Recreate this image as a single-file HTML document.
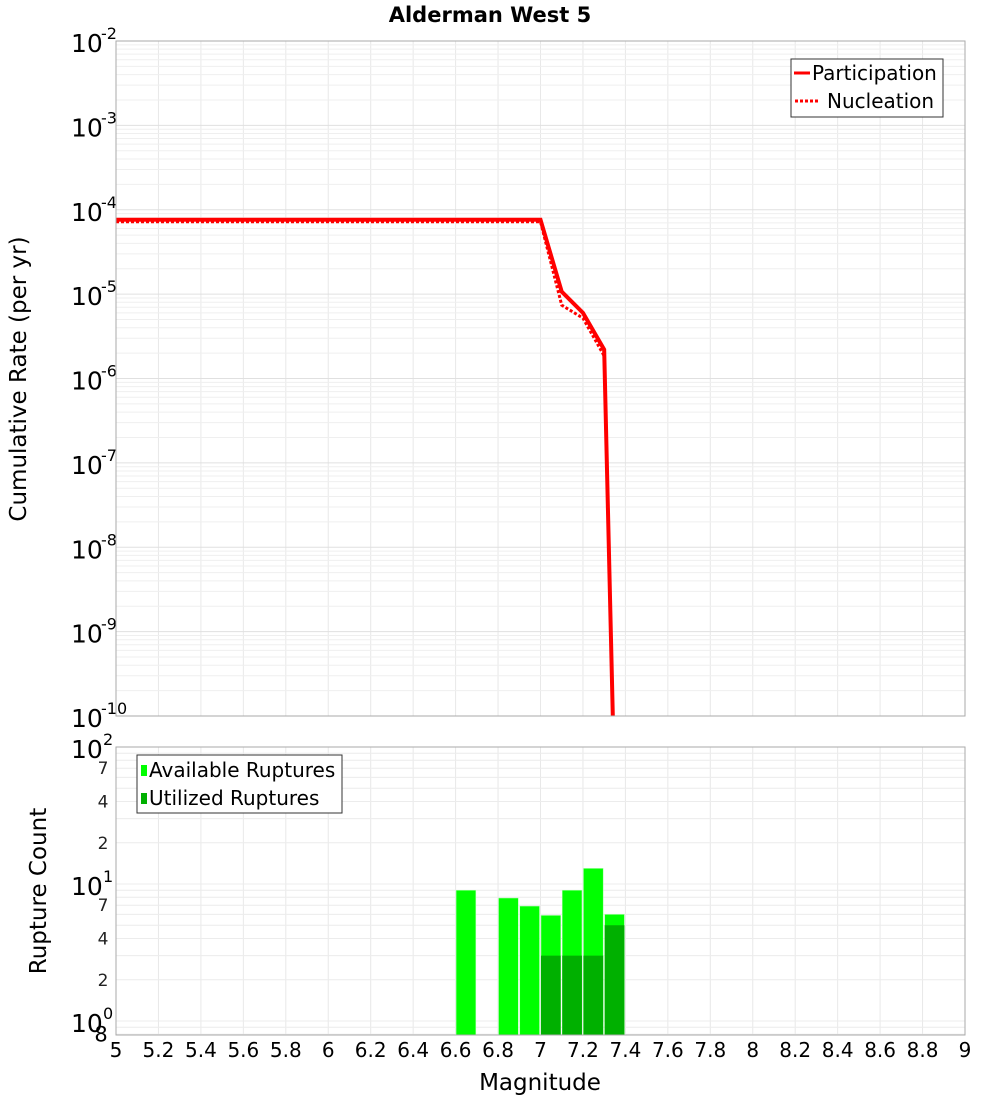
<!DOCTYPE html>
<html><head><meta charset="utf-8"><style>
body{margin:0;background:#fff;font-family:"DejaVu Sans","Liberation Sans",sans-serif}
svg text{font-family:"DejaVu Sans","Liberation Sans",sans-serif}
</style></head><body>
<svg id="c" width="1000" height="1100" xmlns="http://www.w3.org/2000/svg">
<rect width="1000" height="1100" fill="#fff"/>
<text x="490" y="22" font-size="21" font-weight="bold" text-anchor="middle">Alderman West 5</text>
<g id="grid"></g>
<g id="bars"></g>
<g id="lines"></g>
<g id="axes"></g>
<rect x="116" y="41" width="849" height="675" fill="none" stroke="#aaa"/>
<rect x="116" y="747" width="849" height="288" fill="none" stroke="#aaa"/>
<text transform="translate(26,379) rotate(-90)" font-size="23" text-anchor="middle">Cumulative Rate (per yr)</text>
<text transform="translate(46,891) rotate(-90)" font-size="23" text-anchor="middle">Rupture Count</text>
<text x="540" y="1090" font-size="23" text-anchor="middle">Magnitude</text>
<g>
<rect x="791" y="59" width="152" height="58" fill="#fff" stroke="#333"/>
<line x1="794" y1="73" x2="810" y2="73" stroke="#f00" stroke-width="3"/>
<text x="812" y="80" font-size="20">Participation</text>
<line x1="795" y1="101" x2="820" y2="101" stroke="#f00" stroke-width="3" stroke-dasharray="3,2"/>
<text x="827" y="108" font-size="20">Nucleation</text>
</g>
<g>
<rect x="137" y="755" width="205" height="58" fill="#fff" stroke="#333"/>
<rect x="141" y="765" width="6" height="11" fill="#00ff00"/>
<text x="149" y="777" font-size="20">Available Ruptures</text>
<rect x="141" y="793" width="6" height="11" fill="#00b000"/>
<text x="149" y="805" font-size="20">Utilized Ruptures</text>
</g>
</svg>
<script>
const mags=[5,5.1,5.2,5.3,5.4,5.5,5.6,5.7,5.8,5.9,6,6.1,6.2,6.3,6.4,6.5,6.6,6.7,6.8,6.9,7,7.1,7.2,7.3,7.35];
const participation=[7.6e-5,7.6e-5,7.6e-5,7.6e-5,7.6e-5,7.6e-5,7.6e-5,7.6e-5,7.6e-5,7.6e-5,7.6e-5,7.6e-5,7.6e-5,7.6e-5,7.6e-5,7.6e-5,7.6e-5,7.6e-5,7.6e-5,7.6e-5,7.6e-5,1.07e-5,6e-6,2.2e-6,1e-11];
const nucleation=[7.2e-5,7.2e-5,7.2e-5,7.2e-5,7.2e-5,7.2e-5,7.2e-5,7.2e-5,7.2e-5,7.2e-5,7.2e-5,7.2e-5,7.2e-5,7.2e-5,7.2e-5,7.2e-5,7.2e-5,7.2e-5,7.2e-5,7.2e-5,7.2e-5,7.4e-6,5.2e-6,1.85e-6,1e-11];
const binMags=[6.6,6.8,6.9,7.0,7.1,7.2,7.3];
const available=[9,7.9,6.9,5.9,9,13,6];
const utilized=[0,0,0,3,3,3,5];
const xTicks=[5,5.2,5.4,5.6,5.8,6,6.2,6.4,6.6,6.8,7,7.2,7.4,7.6,7.8,8,8.2,8.4,8.6,8.8,9];
const topExps=[-2,-3,-4,-5,-6,-7,-8,-9,-10];
const botMinor=[7,4,2];

const NS="http://www.w3.org/2000/svg";
const X=m=>116+(m-5)/4*849;
const YT=v=>41+(-2-Math.log10(v))*84.375;
const YB=v=>747+(2-Math.log10(v))*137;
function mk(p,t,a){const e=document.createElementNS(NS,t);for(const k in a)e.setAttribute(k,a[k]);p.appendChild(e);return e;}
const grid=document.getElementById('grid'),bars=document.getElementById('bars'),lines=document.getElementById('lines'),axes=document.getElementById('axes');
for(const m of xTicks){
 const g1=mk(grid,'line',{x1:X(m),x2:X(m),y1:41,y2:716,stroke:'#e8e8e8'});
 
 
 const g2=mk(grid,'line',{x1:X(m),x2:X(m),y1:747,y2:1035,stroke:'#e8e8e8'});
 
 
}
for(let e=-10;e<-2;e++)for(let k=1;k<10;k++){
 const y=YT(k*Math.pow(10,e));
 const l=mk(grid,'line',{x1:116,x2:965,y1:y,y2:y,stroke:k==1?'#e0e0e0':'#efefef'});
 
 
}
for(let e=-1;e<2;e++)for(let k=1;k<10;k++){
 const v=k*Math.pow(10,e);if(v<0.8)continue;
 const y=YB(v);
 const l=mk(grid,'line',{x1:116,x2:965,y1:y,y2:y,stroke:'#ececec'});
 
 
}
binMags.forEach((m,i)=>{
 const x0=X(m),w=X(m+0.1)-x0;
 const b=mk(bars,'rect',{x:x0+0.5,y:YB(available[i]),width:w-1.5,height:1035-YB(available[i]),fill:'#00ff00',stroke:'#b0ffb0','stroke-width':0.5});
 
 
 if(utilized[i]>0){
  const u=mk(bars,'rect',{x:x0+0.5,y:YB(utilized[i]),width:w-1.5,height:1035-YB(utilized[i]),fill:'#00b000'});
  
  
 }
});
const clip=mk(lines,'clipPath',{id:'cp'});mk(clip,'rect',{x:116,y:41,width:849,height:675});
const pn=mk(lines,'polyline',{points:mags.map((m,i)=>X(m)+','+YT(nucleation[i])).join(' '),fill:'none',stroke:'#f00','stroke-width':3,'stroke-dasharray':'3,2','clip-path':'url(#cp)'});


const pp=mk(lines,'polyline',{points:mags.map((m,i)=>X(m)+','+YT(participation[i])).join(' '),fill:'none',stroke:'#f00','stroke-width':4,'clip-path':'url(#cp)'});


for(const m of xTicks){
 const t=mk(axes,'text',{x:X(m),y:1057,'font-size':20,'text-anchor':'middle'});
 t.textContent=String(m);
 
 
}
for(const e of topExps){
 const y=YT(Math.pow(10,e));
 const t=mk(axes,'text',{x:71,y:y+11,'font-size':25});
 t.textContent='10';
 
 
 const s=mk(axes,'text',{x:101,y:y-2,'font-size':16});
 s.textContent=String(e);
 
 
}
for(let e=2;e>=0;e--){
 const y=YB(Math.pow(10,e));
 const t=mk(axes,'text',{x:71,y:y+11,'font-size':25});
 t.textContent='10';
 
 
 const s=mk(axes,'text',{x:103,y:y-2,'font-size':16});
 s.textContent=String(e);
 
 
 if(e>0)for(const k of botMinor){
  const yy=YB(k*Math.pow(10,e-1));
  const m=mk(axes,'text',{x:103,y:yy+6,'font-size':17,'text-anchor':'middle',fill:'#222'});
  m.textContent=String(k);
  
  
 }
}
const e8=mk(axes,'text',{x:101,y:YB(0.8)+7,'font-size':21,'text-anchor':'middle'});
e8.textContent='8';


</script>
</body></html>
